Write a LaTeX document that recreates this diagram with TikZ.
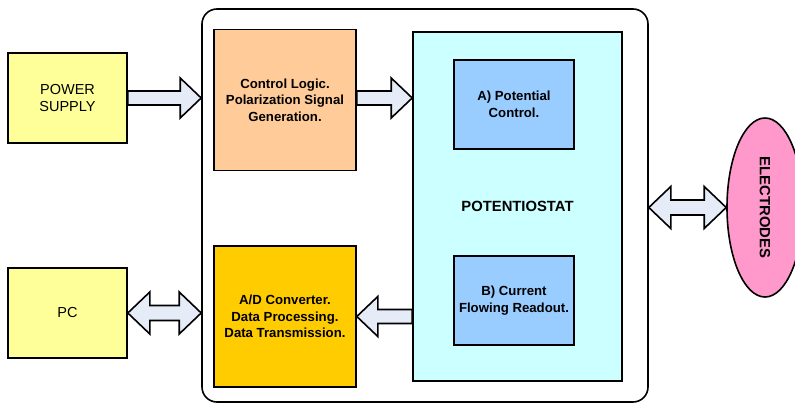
\documentclass[tikz,border=0pt]{standalone}
\usepackage{fontspec}
\setmainfont{Liberation Sans}
\usetikzlibrary{calc,shapes.geometric}
\definecolor{pale}{HTML}{FFFF99}
\definecolor{peach}{HTML}{FFCC99}
\definecolor{gold}{HTML}{FFCC00}
\definecolor{cyanl}{HTML}{CCFFFF}
\definecolor{bluel}{HTML}{99CCFF}
\definecolor{pinkl}{HTML}{FF99CC}
\definecolor{arrfill}{HTML}{E6ECF7}
\tikzset{
  blk/.style={draw=black, line width=1.6pt, rectangle, align=center, inner sep=0pt,
    font=\fontsize{14.5}{16.5}\selectfont},
  bblk/.style={blk, font=\fontsize{13.2}{16.5}\selectfont\bfseries},
  capsf/.style={font=\fontsize{14.8}{16.5}\selectfont\bfseries},
  barrow/.style={draw=black, line width=1.6pt, fill=arrfill, line join=miter},
}
\newcommand\rarr[3]{\draw[barrow] let \p1=(#1), \p2=(#2), \p3=(#3) in
  (\x1,\y3+7pt) -- (\x2-21pt,\y3+7pt) -- (\x2-21pt,\y3+20pt) -- (\x2,\y3) -- (\x2-21pt,\y3-20pt) -- (\x2-21pt,\y3-7pt) -- (\x1,\y3-7pt) -- cycle;}
\newcommand\larr[3]{\draw[barrow] let \p1=(#1), \p2=(#2), \p3=(#3) in
  (\x1,\y3+7pt) -- (\x2+21pt,\y3+7pt) -- (\x2+21pt,\y3+20pt) -- (\x2,\y3) -- (\x2+21pt,\y3-20pt) -- (\x2+21pt,\y3-7pt) -- (\x1,\y3-7pt) -- cycle;}
\newcommand\darr[3]{\draw[barrow] let \p1=(#1), \p2=(#2), \p3=(#3) in
  (\x1,\y3) -- (\x1+22pt,\y3+21pt) -- (\x1+22pt,\y3+7.5pt) -- (\x2-22pt,\y3+7.5pt) -- (\x2-22pt,\y3+21pt) -- (\x2,\y3) -- (\x2-22pt,\y3-21pt) -- (\x2-22pt,\y3-7.5pt) -- (\x1+22pt,\y3-7.5pt) -- (\x1+22pt,\y3-21pt) -- cycle;}
\begin{document}
\begin{tikzpicture}[x=1pt,y=-1pt]
\useasboundingbox (0,0) rectangle (795,404);
\node[draw=black, line width=1.6pt, rounded corners=15pt, fill=white, minimum width=446pt, minimum height=393pt, inner sep=0pt] (outer) at (425,205.5) {};
\node[blk, fill=pale, minimum width=119pt, minimum height=90pt] (ps) at (67.5,98) {POWER\\SUPPLY};
\node[blk, fill=pale, minimum width=119pt, minimum height=90pt] (pc) at (67.5,313) {PC};
\node[bblk, fill=peach, minimum width=142pt, minimum height=141pt] (ctrl) at (285,100) {Control Logic.\\Polarization Signal\\Generation.};
\node[bblk, fill=gold, minimum width=142pt, minimum height=141pt] (ad) at (285,316.5) {A/D Converter.\\Data Processing.\\Data Transmission.};
\node[bblk, capsf, fill=cyanl, minimum width=209pt, minimum height=349pt] (pot) at (517.5,206.5) {POTENTIOSTAT};
\node[bblk, fill=bluel, minimum width=120pt, minimum height=89pt] (pa) at (514,104.5) {A) Potential\\Control.};
\node[bblk, fill=bluel, minimum width=120pt, minimum height=89pt] (pb) at (514,300.5) {B) Current\\Flowing Readout.};
\node[draw=black, line width=1.6pt, ellipse, fill=pinkl, minimum width=76pt, minimum height=179pt, inner sep=0pt] (el) at (765,207.5) {};
\node[rotate=-90, capsf] (eltext) at (el.center) {ELECTRODES};
\rarr{ps.east}{outer.west}{ps}
\rarr{ctrl.east}{pot.west}{ps}
\darr{pc.east}{outer.west}{pc}
\larr{pot.west}{ad.east}{ad}
\darr{outer.east}{el.west}{el}
\end{tikzpicture}
\end{document}
